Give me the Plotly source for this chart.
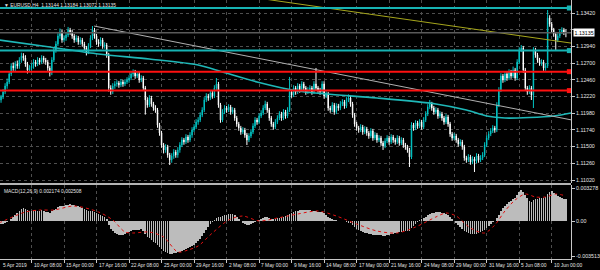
import plotly.graph_objects as go

# ---------------- data (EURUSD H4) ----------------
first_open = 1.12120
closes = [
    1.12170, 1.12213, 1.12285, 1.12371, 1.12429, 1.12544, 1.12659, 1.12630, 1.12687, 1.12659,
    1.12745, 1.12802, 1.12774, 1.12687, 1.12601, 1.12630, 1.12659, 1.12716, 1.12687, 1.12745,
    1.12716, 1.12774, 1.12745, 1.12716, 1.12630, 1.12558, 1.12745, 1.12889, 1.12975, 1.13090,
    1.13147, 1.13032, 1.13061, 1.13104, 1.13176, 1.13147, 1.13090, 1.13032, 1.13061, 1.13004,
    1.13032, 1.12975, 1.12917, 1.12860, 1.12946, 1.13061, 1.13176, 1.13090, 1.13004, 1.12975,
    1.13032, 1.12946, 1.12960, 1.12817, 1.12342, 1.12285, 1.12371, 1.12400, 1.12414, 1.12386,
    1.12429, 1.12400, 1.12429, 1.12457, 1.12486, 1.12544, 1.12572, 1.12515, 1.12544, 1.12457,
    1.12486, 1.12342, 1.12170, 1.12098, 1.12199, 1.12113, 1.12055, 1.12026, 1.11811, 1.11696,
    1.11523, 1.11452, 1.11495, 1.11380, 1.11308, 1.11365, 1.11423, 1.11380, 1.11452, 1.11523,
    1.11595, 1.11567, 1.11638, 1.11595, 1.11667, 1.11739, 1.11782, 1.11854, 1.11883, 1.11954,
    1.12026, 1.12170, 1.12228, 1.12199, 1.12271, 1.12228, 1.12342, 1.12400, 1.12098, 1.11883,
    1.11998, 1.12055, 1.12026, 1.12069, 1.11998, 1.12026, 1.11911, 1.11825, 1.11768, 1.11710,
    1.11739, 1.11667, 1.11595, 1.11653, 1.11710, 1.11796, 1.11883, 1.11854, 1.11940, 1.11983,
    1.12055, 1.12113, 1.12026, 1.11911, 1.11825, 1.11782, 1.11854, 1.11911, 1.11969, 1.11911,
    1.11998, 1.11940, 1.12026, 1.12285, 1.12242, 1.12342, 1.12285, 1.12371, 1.12314, 1.12400,
    1.12342, 1.12285, 1.12314, 1.12342, 1.12285, 1.12400, 1.12342, 1.12314, 1.12285, 1.12400,
    1.12228, 1.12256, 1.12055, 1.12026, 1.12098, 1.11998, 1.12084, 1.12055, 1.12113, 1.12141,
    1.12084, 1.12170, 1.12199, 1.12113, 1.11954, 1.11825, 1.11768, 1.11739, 1.11782, 1.11710,
    1.11753, 1.11696, 1.11653, 1.11725, 1.11624, 1.11667, 1.11595, 1.11624, 1.11552, 1.11509,
    1.11581, 1.11624, 1.11567, 1.11638, 1.11595, 1.11567, 1.11624, 1.11552, 1.11595, 1.11523,
    1.11495, 1.11452, 1.11351, 1.11811, 1.11768, 1.11840, 1.11796, 1.11854, 1.11782, 1.11883,
    1.11969, 1.12069, 1.12113, 1.12055, 1.11998, 1.12026, 1.11940, 1.11969, 1.11911, 1.11854,
    1.11926, 1.11825, 1.11681, 1.11624, 1.11653, 1.11595, 1.11538, 1.11567, 1.11495, 1.11337,
    1.11308, 1.11351, 1.11279, 1.11322, 1.11293, 1.11365, 1.11308, 1.11337, 1.11380, 1.11523,
    1.11624, 1.11681, 1.11725, 1.11768, 1.11739, 1.12098, 1.12314, 1.12515, 1.12457, 1.12544,
    1.12486, 1.12572, 1.12515, 1.12601, 1.12486, 1.12716, 1.12889, 1.12917, 1.12601, 1.12342,
    1.12285, 1.12342, 1.12242, 1.12889, 1.12817, 1.12745, 1.12702, 1.12716, 1.12630, 1.12659,
    1.13348, 1.13262, 1.13176, 1.13118, 1.13032, 1.13090, 1.13147, 1.13176, 1.13144, 1.13135,
]
highs = [
    1.12210, 1.12243, 1.12325, 1.12411, 1.12479, 1.12584, 1.12699, 1.12709, 1.12727, 1.12737,
    1.12785, 1.12850, 1.12842, 1.12814, 1.12717, 1.12670, 1.12699, 1.12756, 1.12746, 1.12785,
    1.12775, 1.12814, 1.12804, 1.12775, 1.12746, 1.12660, 1.12785, 1.12929, 1.13015, 1.13130,
    1.13197, 1.13177, 1.13101, 1.13144, 1.13220, 1.13206, 1.13177, 1.13120, 1.13101, 1.13091,
    1.13072, 1.13062, 1.13005, 1.12947, 1.12986, 1.13101, 1.13233, 1.13206, 1.13120, 1.13044,
    1.13072, 1.13062, 1.13000, 1.12990, 1.12847, 1.12382, 1.12411, 1.12440, 1.12454, 1.12444,
    1.12469, 1.12459, 1.12469, 1.12497, 1.12526, 1.12584, 1.12612, 1.12602, 1.12584, 1.12574,
    1.12526, 1.12516, 1.12372, 1.12210, 1.12239, 1.12229, 1.12143, 1.12095, 1.12056, 1.11841,
    1.11726, 1.11553, 1.11535, 1.11525, 1.11410, 1.11405, 1.11463, 1.11453, 1.11492, 1.11563,
    1.11635, 1.11625, 1.11678, 1.11668, 1.11707, 1.11779, 1.11822, 1.11894, 1.11923, 1.11994,
    1.12066, 1.12210, 1.12268, 1.12258, 1.12311, 1.12301, 1.12382, 1.12486, 1.12430, 1.12128,
    1.12038, 1.12095, 1.12085, 1.12109, 1.12099, 1.12066, 1.12056, 1.11941, 1.11855, 1.11798,
    1.11779, 1.11769, 1.11697, 1.11693, 1.11750, 1.11836, 1.11923, 1.11913, 1.11980, 1.12023,
    1.12095, 1.12160, 1.12143, 1.12056, 1.11941, 1.11855, 1.11894, 1.11951, 1.12009, 1.11999,
    1.12038, 1.12028, 1.12066, 1.12501, 1.12325, 1.12382, 1.12372, 1.12411, 1.12401, 1.12440,
    1.12430, 1.12372, 1.12354, 1.12382, 1.12372, 1.12440, 1.12630, 1.12372, 1.12344, 1.12440,
    1.12440, 1.12296, 1.12286, 1.12085, 1.12138, 1.12128, 1.12124, 1.12114, 1.12153, 1.12181,
    1.12171, 1.12210, 1.12250, 1.12229, 1.12143, 1.11984, 1.11855, 1.11798, 1.11822, 1.11812,
    1.11793, 1.11783, 1.11726, 1.11765, 1.11755, 1.11707, 1.11697, 1.11664, 1.11654, 1.11582,
    1.11621, 1.11664, 1.11654, 1.11678, 1.11668, 1.11625, 1.11664, 1.11654, 1.11635, 1.11625,
    1.11553, 1.11525, 1.11482, 1.11851, 1.11841, 1.11880, 1.11870, 1.11894, 1.11884, 1.11923,
    1.12009, 1.12109, 1.12170, 1.12143, 1.12085, 1.12066, 1.12056, 1.12009, 1.11999, 1.11941,
    1.11966, 1.11956, 1.11855, 1.11711, 1.11693, 1.11683, 1.11625, 1.11607, 1.11597, 1.11525,
    1.11367, 1.11391, 1.11381, 1.11362, 1.11352, 1.11405, 1.11395, 1.11377, 1.11420, 1.11563,
    1.11664, 1.11721, 1.11765, 1.11808, 1.11798, 1.12138, 1.12354, 1.12555, 1.12545, 1.12584,
    1.12574, 1.12612, 1.12602, 1.12650, 1.12631, 1.12756, 1.12929, 1.12960, 1.12947, 1.12631,
    1.12372, 1.12382, 1.12372, 1.12929, 1.12919, 1.12847, 1.12775, 1.12756, 1.12746, 1.12699,
    1.13463, 1.13388, 1.13292, 1.13206, 1.13148, 1.13130, 1.13187, 1.13216, 1.13206, 1.13184,
]
lows = [
    1.12070, 1.12130, 1.12183, 1.12255, 1.12331, 1.12399, 1.12514, 1.12590, 1.12580, 1.12619,
    1.12619, 1.12705, 1.12734, 1.12647, 1.12551, 1.12571, 1.12590, 1.12619, 1.12647, 1.12657,
    1.12676, 1.12686, 1.12705, 1.12676, 1.12590, 1.12508, 1.12528, 1.12715, 1.12849, 1.12945,
    1.13050, 1.12992, 1.13002, 1.13021, 1.13074, 1.13107, 1.13050, 1.12992, 1.13002, 1.12964,
    1.12964, 1.12935, 1.12877, 1.12810, 1.12830, 1.12916, 1.13031, 1.13050, 1.12964, 1.12935,
    1.12945, 1.12906, 1.12906, 1.12777, 1.12292, 1.12245, 1.12255, 1.12331, 1.12360, 1.12346,
    1.12356, 1.12360, 1.12370, 1.12399, 1.12417, 1.12456, 1.12504, 1.12475, 1.12485, 1.12417,
    1.12427, 1.12302, 1.11960, 1.12058, 1.12068, 1.12073, 1.12015, 1.11986, 1.11771, 1.11656,
    1.11483, 1.11402, 1.11412, 1.11340, 1.11236, 1.11268, 1.11325, 1.11340, 1.11340, 1.11412,
    1.11493, 1.11527, 1.11537, 1.11555, 1.11565, 1.11627, 1.11709, 1.11752, 1.11814, 1.11853,
    1.11924, 1.11996, 1.12140, 1.12159, 1.12169, 1.12188, 1.12198, 1.12312, 1.12058, 1.11843,
    1.11853, 1.11968, 1.11986, 1.11996, 1.11958, 1.11968, 1.11871, 1.11785, 1.11728, 1.11670,
    1.11680, 1.11627, 1.11523, 1.11565, 1.11623, 1.11680, 1.11766, 1.11814, 1.11824, 1.11910,
    1.11953, 1.12025, 1.11986, 1.11871, 1.11785, 1.11742, 1.11752, 1.11824, 1.11881, 1.11871,
    1.11881, 1.11900, 1.11910, 1.11996, 1.12202, 1.12212, 1.12245, 1.12255, 1.12274, 1.12284,
    1.12302, 1.12245, 1.12255, 1.12284, 1.12245, 1.12255, 1.12302, 1.12274, 1.12245, 1.12255,
    1.12188, 1.12198, 1.12015, 1.11986, 1.11996, 1.11958, 1.11968, 1.12015, 1.12025, 1.12083,
    1.12044, 1.12054, 1.12140, 1.12073, 1.11914, 1.11785, 1.11728, 1.11699, 1.11709, 1.11670,
    1.11680, 1.11656, 1.11613, 1.11623, 1.11584, 1.11594, 1.11555, 1.11565, 1.11512, 1.11452,
    1.11479, 1.11551, 1.11527, 1.11537, 1.11555, 1.11527, 1.11537, 1.11512, 1.11522, 1.11483,
    1.11455, 1.11412, 1.11207, 1.11321, 1.11728, 1.11738, 1.11756, 1.11766, 1.11742, 1.11752,
    1.11853, 1.11939, 1.12039, 1.12015, 1.11958, 1.11968, 1.11900, 1.11910, 1.11871, 1.11814,
    1.11824, 1.11785, 1.11641, 1.11584, 1.11594, 1.11555, 1.11498, 1.11508, 1.11455, 1.11297,
    1.11268, 1.11278, 1.11239, 1.11249, 1.11135, 1.11263, 1.11268, 1.11278, 1.11307, 1.11350,
    1.11493, 1.11594, 1.11651, 1.11695, 1.11699, 1.11709, 1.12068, 1.12284, 1.12417, 1.12427,
    1.12446, 1.12456, 1.12475, 1.12485, 1.12446, 1.12456, 1.12686, 1.12859, 1.12561, 1.12302,
    1.12245, 1.12255, 1.12170, 1.12055, 1.12777, 1.12705, 1.12662, 1.12662, 1.12590, 1.12590,
    1.12629, 1.13222, 1.13136, 1.13078, 1.12889, 1.13002, 1.13060, 1.13117, 1.13104, 1.13072,
]

macd_main = [
    -0.0002, -0.0003, -0.0003, -0.0002, -0.0001, 0.0000,
    0.0002, 0.0004, 0.0006,
    0.0008, 0.0010, 0.0012, 0.0013,
    0.0012, 0.0011, 0.0010, 0.0010, 0.0011, 0.0011, 0.0010, 0.0010, 0.0011, 0.0010, 0.0009, 0.0009, 0.0008,
    0.0010, 0.0011, 0.0012, 0.0014, 0.0015,
    0.0015, 0.0015, 0.0016, 0.0016, 0.0017, 0.0016, 0.0016, 0.0015, 0.0015,
    0.0014, 0.0013, 0.0012, 0.0011, 0.0010, 0.0010, 0.0010, 0.0009,
    0.0008, 0.0007, 0.0006, 0.0005, 0.0004, 0.0002,
    -0.0004, -0.0008, -0.0010, -0.0012, -0.0013, -0.0014, -0.0014, -0.0014,
    -0.0013, -0.0012, -0.0011, -0.0010, -0.0009, -0.0009, -0.0009, -0.0009, -0.0008, -0.0010,
    -0.0013, -0.0016, -0.0017, -0.0019, -0.0021, -0.0022, -0.0024, -0.0026, -0.0028, -0.0030,
    -0.0031, -0.0032, -0.0033, -0.0033, -0.0032, -0.0032, -0.0031, -0.0031, -0.0030,
    -0.0029, -0.0028, -0.0027, -0.0026, -0.0025, -0.0024, -0.0022, -0.0020,
    -0.0018, -0.0015, -0.0012, -0.0009, -0.0006, -0.0003, -0.0001,
    0.0001, 0.0003, 0.0004, 0.0004, 0.0005, 0.0006, 0.0006, 0.0007, 0.0007, 0.0007, 0.0006,
    0.0004, 0.0002, 0.0000, -0.0002, -0.0003, -0.0004,
    -0.0004, -0.0003, -0.0002, -0.0001, 0.0000, 0.0001, 0.0002,
    0.0003, 0.0004, 0.0004, 0.0003, 0.0002, 0.0002, 0.0002, 0.0003, 0.0003, 0.0004, 0.0004, 0.0005, 0.0006, 0.0007, 0.0008, 0.0009,
    0.0010, 0.0010, 0.0011, 0.0011, 0.0011, 0.0011, 0.0011, 0.0011, 0.0010, 0.0010, 0.0010, 0.0009, 0.0009, 0.0009, 0.0008,
    0.0006, 0.0004, 0.0003, 0.0002, 0.0001, 0.0001, 0.0000, 0.0000, 0.0000, 0.0000,
    -0.0001, -0.0002, -0.0002, -0.0004, -0.0006, -0.0008, -0.0009, -0.0010, -0.0011, -0.0012, -0.0012, -0.0013, -0.0013, -0.0014, -0.0014,
    -0.0014, -0.0014, -0.0014, -0.0015, -0.0015, -0.0014, -0.0014, -0.0013, -0.0013, -0.0012, -0.0012, -0.0011, -0.0011, -0.0010, -0.0010,
    -0.0010, -0.0010, -0.0007, -0.0005, -0.0003,
    -0.0001, 0.0001, 0.0002, 0.0003, 0.0004, 0.0006, 0.0007, 0.0008, 0.0008, 0.0009, 0.0009, 0.0009, 0.0008, 0.0008, 0.0007,
    0.0006, 0.0004, 0.0002, 0.0000, -0.0002,
    -0.0004, -0.0006, -0.0008, -0.0010, -0.0011, -0.0012, -0.0013, -0.0013, -0.0013, -0.0013, -0.0012, -0.0011, -0.0010, -0.0009, -0.0007,
    -0.0005, -0.0003, -0.0001, 0.0000,
    0.0003, 0.0006, 0.0010, 0.0013, 0.0015, 0.0017, 0.0019, 0.0020, 0.0022, 0.0023, 0.0026, 0.0029,
    0.0031, 0.0029, 0.0026, 0.0023, 0.0020, 0.0019,
    0.0021, 0.0022, 0.0022, 0.0023, 0.0023, 0.0023, 0.0024,
    0.0027, 0.0029, 0.0030, 0.0028, 0.0027, 0.0025, 0.0024, 0.0023, 0.0022, 0.002174,
]
signal_bars = [0, 13, 20, 27, 37, 49, 56, 62, 66, 74, 81, 88, 93, 98, 105, 113, 120, 128, 137,
               147, 157, 166, 176, 186, 196, 205, 215, 220, 225, 232, 239, 244, 249, 254, 259,
               264, 269, 274, 279]
signal_vals = [-0.0002, 0.0009, 0.0011, 0.0011, 0.0015, 0.0009, 0.0001, -0.0011, -0.0012,
               -0.0011, -0.0016, -0.0031, -0.0029, -0.0025, -0.0012, 0.0001, 0.0005, 0.0000,
               0.0003, 0.0007, 0.0010, 0.0005, -0.0003, -0.0010, -0.0012, -0.0006, 0.0004,
               0.0008, 0.0005, -0.0007, -0.0012, -0.0004, 0.0010, 0.0021, 0.0027, 0.0024,
               0.0024, 0.0027, 0.002508]

ma_bars = [0, 25, 49, 74, 98, 110, 127, 147, 161, 186, 215, 230, 240, 249, 273, 281.5]
ma_vals = [1.13032, 1.12932, 1.12831, 1.12759, 1.12673, 1.12572, 1.12429, 1.12299, 1.12256,
           1.12199, 1.12113, 1.12026, 1.11940, 1.11911, 1.11940, 1.11983]

gray_trend_bars = [46.8, 281.5]
gray_trend_vals = [1.13233, 1.11885]
yellow_trend_bars = [122, 281.5]
yellow_trend_vals = [1.13657, 1.12988]

cyan_levels = [1.13492, 1.12880]
red_levels = [1.12577, 1.12305]
current_price = 1.13135

tick_bars = [0, 16, 32, 48, 64, 80, 96, 112, 128, 144, 160, 176, 192, 208, 224, 240, 256, 272]
tick_labels = ["5 Apr 2019", "10 Apr 08:00", "15 Apr 00:00", "17 Apr 16:00", "22 Apr 08:00",
               "25 Apr 00:00", "29 Apr 16:00", "2 May 08:00", "7 May 00:00", "9 May 16:00",
               "14 May 08:00", "17 May 00:00", "21 May 16:00", "24 May 08:00", "29 May 00:00",
               "31 May 16:00", "5 Jun 08:00", "10 Jun 00:00"]

price_ticks = [1.13420, 1.13180, 1.12940, 1.12700, 1.12460, 1.12220, 1.11980, 1.11740,
               1.11500, 1.11260, 1.11020]
price_tick_text = ["1.13420", "", "1.12940", "1.12700", "1.12460", "1.12220", "1.11980",
                   "1.11740", "1.11500", "1.11260", "1.11020"]
macd_ticks = [0.003278, 0.0, -0.003513]
macd_tick_text = ["0.003278", "0.00", "-0.003513"]

title_text = "▼ EURUSD,H4  1.13144 1.13184 1.13072 1.13135"
macd_title = "MACD(12,26,9) 0.002174 0.002508"

# ---------------- styling ----------------
UP = "#00c4c4"
DOWN = "#ffffff"
MA_COL = "#1fb8b8"
LVL_CYAN = "#17b3b3"
RED = "#ff1010"
GRID = "#4e4e4e"
AXIS = "#c8c8c8"
TXT = "#e6e6e6"
FONT = "Liberation Sans"
FS_AX = 5.3
FS_SM = 4.9
X0, X1 = 0.49, 281.5
MAIN_DOM = [0.2934, 1.0]
MACD_DOM = [0.0, 0.2857]

bars = list(range(len(closes)))
opens = [first_open] + closes[:-1]

fig = go.Figure()

fig.add_trace(go.Candlestick(
    x=bars, open=opens, high=highs, low=lows, close=closes,
    increasing=dict(line=dict(color=UP, width=1), fillcolor=UP),
    decreasing=dict(line=dict(color=DOWN, width=1), fillcolor=DOWN),
    whiskerwidth=0, xaxis="x", yaxis="y", hoverinfo="skip", showlegend=False))

# moving average curve
fig.add_trace(go.Scatter(x=ma_bars, y=ma_vals, mode="lines", xaxis="x", yaxis="y",
                         line=dict(color=MA_COL, width=1.6, shape="spline", smoothing=0.8),
                         hoverinfo="skip", showlegend=False))
# trend lines
fig.add_trace(go.Scatter(x=gray_trend_bars, y=gray_trend_vals, mode="lines", xaxis="x", yaxis="y",
                         line=dict(color="#b0b0b0", width=1), hoverinfo="skip", showlegend=False))
fig.add_trace(go.Scatter(x=yellow_trend_bars, y=yellow_trend_vals, mode="lines", xaxis="x", yaxis="y",
                         line=dict(color="#a6a61c", width=1), hoverinfo="skip", showlegend=False))
# current price line
fig.add_trace(go.Scatter(x=[X0, X1], y=[current_price, current_price], mode="lines", xaxis="x", yaxis="y",
                         line=dict(color="#5a5a5a", width=1.5), hoverinfo="skip", showlegend=False))
# horizontal levels
for lv in cyan_levels:
    fig.add_trace(go.Scatter(x=[X0, X1 - 0.8], y=[lv, lv], mode="lines", xaxis="x", yaxis="y",
                             line=dict(color=LVL_CYAN, width=2), hoverinfo="skip", showlegend=False))
    fig.add_trace(go.Scatter(x=[X1 - 0.8], y=[lv], mode="markers", xaxis="x", yaxis="y",
                             marker=dict(symbol="square", size=5, color=LVL_CYAN),
                             hoverinfo="skip", showlegend=False, cliponaxis=False))
for lv in red_levels:
    fig.add_trace(go.Scatter(x=[X0, X1 - 0.8], y=[lv, lv], mode="lines", xaxis="x", yaxis="y",
                             line=dict(color=RED, width=2), hoverinfo="skip", showlegend=False))
    fig.add_trace(go.Scatter(x=[X1 - 0.8], y=[lv], mode="markers", xaxis="x", yaxis="y",
                             marker=dict(symbol="square", size=5, color=RED),
                             hoverinfo="skip", showlegend=False, cliponaxis=False))

# MACD histogram + signal
fig.add_trace(go.Bar(x=list(range(len(macd_main))), y=macd_main, xaxis="x2", yaxis="y2",
                     marker=dict(color="#bcbcbc", line=dict(width=0)), width=0.32,
                     hoverinfo="skip", showlegend=False))
fig.add_trace(go.Scatter(x=signal_bars, y=signal_vals, mode="lines", xaxis="x2", yaxis="y2",
                         line=dict(color="#e01010", width=1, dash="dot", shape="spline", smoothing=0.8),
                         hoverinfo="skip", showlegend=False))

axis_font = dict(family=FONT, size=FS_AX, color=TXT)

fig.update_layout(
    width=600, height=270,
    margin=dict(l=0, r=24, t=0, b=11, pad=0),
    paper_bgcolor="black", plot_bgcolor="black",
    showlegend=False, bargap=0, boxgap=0.65,
    xaxis=dict(domain=[0, 1], anchor="y", range=[X0, X1], tickvals=tick_bars,
               showticklabels=False, showgrid=True, gridcolor=GRID, griddash="dot",
               gridwidth=1, zeroline=False, showline=False, rangeslider=dict(visible=False),
               fixedrange=True),
    yaxis=dict(domain=MAIN_DOM, anchor="x", range=[1.10977, 1.13607], side="right",
               tickvals=price_ticks, ticktext=price_tick_text, tickfont=axis_font,
               ticks="outside", ticklen=3, tickcolor=AXIS, showgrid=True, gridcolor=GRID,
               griddash="dot", zeroline=False, showline=True, linecolor=AXIS, linewidth=1),
    xaxis2=dict(domain=[0, 1], anchor="y2", range=[X0, X1], tickvals=tick_bars,
                showticklabels=False, ticks="outside", ticklen=3, tickcolor=AXIS,
                showgrid=True, gridcolor=GRID, griddash="dot", zeroline=False,
                showline=True, linecolor=AXIS, linewidth=1),
    yaxis2=dict(domain=MACD_DOM, anchor="x2", range=[-0.0038, 0.0036], side="right",
                tickvals=macd_ticks, ticktext=macd_tick_text, tickfont=axis_font,
                ticks="outside", ticklen=3, tickcolor=AXIS, showgrid=False,
                zeroline=False, showline=True, linecolor=AXIS, linewidth=1),
)

# separator between panels
fig.add_shape(type="line", xref="paper", yref="paper", x0=0, x1=1.0,
              y0=(MAIN_DOM[0] + MACD_DOM[1]) / 2, y1=(MAIN_DOM[0] + MACD_DOM[1]) / 2,
              line=dict(color="#b4b4b4", width=2))

# date labels (left aligned, MT4 style)
for b, lab in zip(tick_bars, tick_labels):
    fig.add_annotation(x=max(b, X0 + 0.3), xref="x2", y=0, yref="paper", text=lab, showarrow=False,
                       xanchor="left", yanchor="top", xshift=0, yshift=-1.5,
                       font=dict(family=FONT, size=FS_SM, color=TXT))

# current price box
fig.add_annotation(x=1.0, xref="paper", y=current_price, yref="y", text="%.5f" % current_price,
                   showarrow=False, xanchor="left", yanchor="middle", xshift=2,
                   bgcolor="#ffffff", borderpad=0.5, font=dict(family=FONT, size=FS_AX, color="#000000"))

# titles
fig.add_annotation(x=0, xref="paper", y=1, yref="paper", text=title_text, showarrow=False,
                   xanchor="left", yanchor="top", xshift=2, yshift=-1,
                   font=dict(family=FONT, size=FS_SM, color=TXT))
fig.add_annotation(x=0, xref="paper", y=MACD_DOM[1], yref="paper", text=macd_title, showarrow=False,
                   xanchor="left", yanchor="top", xshift=2, yshift=-2,
                   font=dict(family=FONT, size=FS_SM, color=TXT))

fig.write_html("out.html")
